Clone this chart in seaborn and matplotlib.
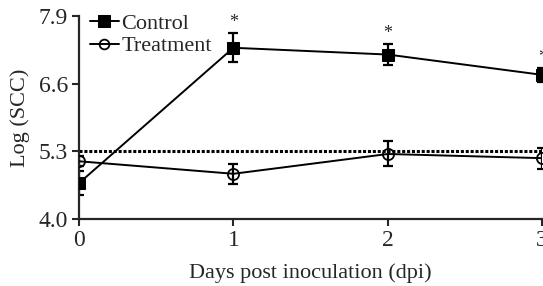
import pandas as pd
import seaborn as sns
import matplotlib.pyplot as plt

# Dados
dias = [0, 1, 2, 3]
controle = [4.69, 7.29, 7.16, 6.77]
controle_err = [0.23, 0.28, 0.21, 0.13]
tratamento = [5.11, 4.87, 5.25, 5.17]
tratamento_err = [0.10, 0.19, 0.24, 0.20]
limite = 5.3
y_ticks = [4.0, 5.3, 6.6, 7.9]

df = pd.DataFrame({
    'dpi': dias * 2,
    'log_scc': controle + tratamento,
    'grupo': ['Control'] * 4 + ['Treatment'] * 4,
})

sns.set_style('ticks')
plt.rcParams['font.family'] = ['Liberation Serif', 'DejaVu Serif']

fig = plt.figure(figsize=(5.43, 2.86), dpi=100)
ax = fig.add_axes([0.1455, 0.234, 0.853, 0.71])

ax.axhline(limite, color='black', ls=(0, (1, 0.6)), lw=2.2, zorder=1)

sns.lineplot(data=df, x='dpi', y='log_scc', hue='grupo', style='grupo',
             markers={'Control': 's', 'Treatment': 'o'}, dashes=False,
             palette={'Control': 'black', 'Treatment': 'black'},
             lw=1.4, markersize=9, markeredgecolor='black', ax=ax, zorder=3)

# marcador vazado para Treatment
lines = [l for l in ax.get_lines() if len(l.get_xdata()) == 4]
lines[1].set_markerfacecolor('none')
lines[1].set_markeredgewidth(1.3)
lines[1].set_markersize(8)

ax.errorbar(dias, controle, yerr=controle_err, fmt='none', ecolor='black',
            elinewidth=1.6, capsize=3.5, capthick=1.6, zorder=2)
ax.errorbar(dias, tratamento, yerr=tratamento_err, fmt='none', ecolor='black',
            elinewidth=1.6, capsize=3.5, capthick=1.6, zorder=2)

for d, v, e in zip(dias[1:], controle[1:], controle_err[1:]):
    ax.text(d, v + e + 0.04, '*', ha='center', va='bottom', fontsize=13)

ax.set_xlim(0, 3)
ax.set_ylim(4.0, 7.9)
ax.set_xticks(dias)
ax.set_yticks(y_ticks)
ax.set_yticklabels([f'{t:.1f}' for t in y_ticks])
ax.tick_params(labelsize=17, width=1.5, length=5, direction='out', pad=3)
for s in ['left', 'bottom']:
    ax.spines[s].set_linewidth(1.6)
sns.despine(ax=ax)
ax.set_xlabel('Days post inoculation (dpi)', fontsize=16, labelpad=9)
ax.set_ylabel('Log (SCC)', fontsize=16, labelpad=6)

h, l = ax.get_legend_handles_labels()
for hh in h:
    hh.set_color('black')
    hh.set_markeredgecolor('black')
h[0].set_markersize(9)
h[1].set_markerfacecolor('none')
h[1].set_markersize(7)
h[1].set_markeredgewidth(1.3)
ax.legend(h, l, loc='upper left', bbox_to_anchor=(-0.005, 1.08), frameon=False,
          fontsize=16, handlelength=1.3, handletextpad=0.1, labelspacing=0.1,
          borderaxespad=0.2)

fig.savefig('out.png', dpi=100)
